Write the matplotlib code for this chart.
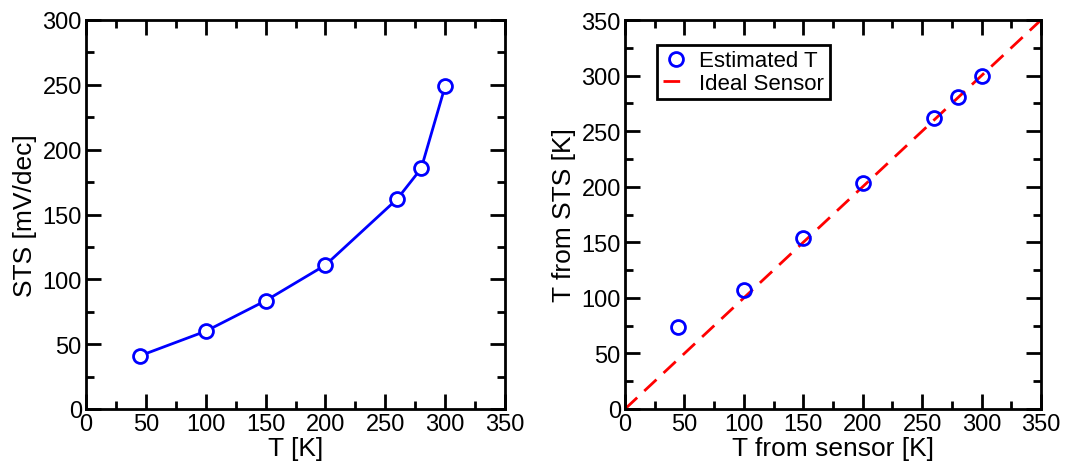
import matplotlib
matplotlib.use("Agg")
import matplotlib.pyplot as plt
from matplotlib.ticker import MultipleLocator

plt.rcParams["font.family"] = ["Liberation Sans", "DejaVu Sans"]

# data
t_sensor = [45, 100, 150, 200, 260, 280, 300]
sts_mv = [41, 60, 83.5, 111, 162, 185.5, 249]
t_from_sts = [73.5, 107, 154, 203, 262, 281, 300]
ideal_x = [0, 350]
ideal_y = [0, 350]

BLUE = "#0000ff"
RED = "#ff0000"


def style_axes(ax, xmax, ymax):
    ax.set_xlim(0, xmax)
    ax.set_ylim(0, ymax)
    ax.xaxis.set_major_locator(MultipleLocator(50))
    ax.xaxis.set_minor_locator(MultipleLocator(25))
    ax.yaxis.set_major_locator(MultipleLocator(50))
    ax.yaxis.set_minor_locator(MultipleLocator(25))
    ax.tick_params(which="both", direction="in", top=True, right=True,
                   width=2, labelsize=17, pad=3)
    ax.tick_params(which="major", length=11)
    ax.tick_params(which="minor", length=6)
    for spine in ax.spines.values():
        spine.set_linewidth(2)


fig = plt.figure(figsize=(10.66, 4.64), dpi=100)
ax1 = fig.add_axes([86 / 1066, 1 - 410 / 464, 419 / 1066, 389 / 464])
ax2 = fig.add_axes([625 / 1066, 1 - 410 / 464, 416 / 1066, 389 / 464])

ax1.plot(t_sensor, sts_mv, color=BLUE, lw=2, marker="o", ms=10,
         mfc="white", mec=BLUE, mew=2)
style_axes(ax1, 350, 300)
ax1.set_xlabel("T [K]", fontsize=19, labelpad=0.5)
ax1.set_ylabel("STS [mV/dec]", fontsize=19, labelpad=4)

ax2.plot(t_sensor, t_from_sts, ls="none", marker="o", ms=10,
         mfc="none", mec=BLUE, mew=2, label="Estimated T", zorder=3)
ax2.plot(ideal_x, ideal_y, color=RED, lw=2, ls=(0, (6, 3.5)),
         label="Ideal Sensor", zorder=2)
style_axes(ax2, 350, 350)
ax2.set_xlabel("T from sensor [K]", fontsize=19, labelpad=0.5)
ax2.set_ylabel("T from STS [K]", fontsize=19, labelpad=4)

leg = ax2.legend(loc="upper left", bbox_to_anchor=(0.077, 0.936), fontsize=16,
                 handlelength=1.2, handletextpad=0.45, borderpad=0.25,
                 borderaxespad=0, labelspacing=0.05, fancybox=False,
                 framealpha=1, edgecolor="black")
leg.get_frame().set_linewidth(2)

fig.savefig("out.png", dpi=100)
